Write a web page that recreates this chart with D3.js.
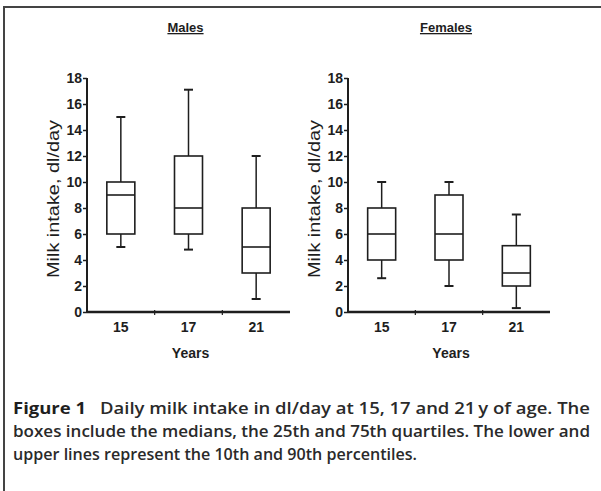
<!DOCTYPE html>
<html>
<head>
<meta charset="utf-8">
<script src="https://cdn.jsdelivr.net/npm/d3@7"></script>
<style>
  html, body { margin: 0; padding: 0; background: #fff; }
  svg { display: block; }
</style>
</head>
<body>
<svg id="fig" width="601" height="491"></svg>
<script>
// Age groups (years)
const years = ["15", "17", "21"];
const yTicks = [0, 2, 4, 6, 8, 10, 12, 14, 16, 18];

// Males: 10th, 25th, 50th, 75th, 90th percentiles (dl/day)
const malesP10 = [5, 4.8, 1];
const malesQ1  = [6, 6, 3];
const malesMed = [9, 8, 5];
const malesQ3  = [10, 12, 8];
const malesP90 = [15, 17.1, 12];

// Females
const femalesP10 = [2.6, 2, 0.3];
const femalesQ1  = [4, 4, 2];
const femalesMed = [6, 6, 3];
const femalesQ3  = [8, 9, 5.1];
const femalesP90 = [10, 10, 7.5];

const captionLines = [
  "Daily milk intake in dl/day at 15, 17 and 21\u2009y of age. The",
  "boxes include the medians, the 25th and 75th quartiles. The lower and",
  "upper lines represent the 10th and 90th percentiles."
];

const svg = d3.select("#fig");
const ink = "#1e1e1e";
const font = "'Liberation Sans', Arial, sans-serif";

// page frame
svg.append("path")
  .attr("d", "M4,491 L4,7 L601,7")
  .attr("fill", "none").attr("stroke", "#444").attr("stroke-width", 2);

function panel(title, x0, x1, p10, q1, med, q3, p90) {
  const g = svg.append("g");
  const y = d3.scaleLinear().domain([0, 18]).range([312, 78]);
  const x = d3.scaleBand().domain(years).range([x0, x1]).padding(0);

  // title
  g.append("text")
    .attr("x", (x0 + x1) / 2 - 3).attr("y", 32)
    .attr("text-anchor", "middle")
    .attr("font-family", font).attr("font-weight", "bold")
    .attr("font-size", 13).attr("fill", ink)
    .attr("text-decoration", "underline")
    .text(title);

  // y axis
  const yAxis = d3.axisLeft(y).tickValues(yTicks).tickSize(4).tickPadding(1);
  const ya = g.append("g").attr("transform", `translate(${x0},0)`).call(yAxis);
  ya.select(".domain").attr("stroke", ink).attr("stroke-width", 2)
    .attr("d", `M0,${y(18)}V${y(0)}`);
  ya.selectAll(".tick line").attr("stroke", ink).attr("stroke-width", 1.5);
  ya.selectAll(".tick text")
    .attr("font-family", font).attr("font-weight", "bold")
    .attr("font-size", 14).attr("fill", ink);

  // x axis line with marks at the category boundaries
  g.append("line")
    .attr("x1", x0).attr("x2", x1).attr("y1", y(0)).attr("y2", y(0))
    .attr("stroke", ink).attr("stroke-width", 2.5);
  g.selectAll(".xb").data(years.slice(1)).enter().append("line")
    .attr("x1", d => x(d)).attr("x2", d => x(d))
    .attr("y1", y(0) - 2).attr("y2", y(0) + 3)
    .attr("stroke", ink).attr("stroke-width", 1.2);
  g.selectAll(".xl").data(years).enter().append("text")
    .attr("x", d => x(d) + x.bandwidth() / 2)
    .attr("y", y(0) + 20)
    .attr("text-anchor", "middle")
    .attr("font-family", font).attr("font-weight", "bold")
    .attr("font-size", 14).attr("fill", ink)
    .text(d => d);

  // axis titles
  g.append("text")
    .attr("x", (x0 + x1) / 2 + 2).attr("y", 358)
    .attr("text-anchor", "middle")
    .attr("font-family", font).attr("font-weight", "bold")
    .attr("font-size", 14).attr("fill", ink)
    .text("Years");
  g.append("text")
    .attr("transform", `translate(${x0 - 28},${y(9) + 4}) rotate(-90)`)
    .attr("text-anchor", "middle")
    .attr("font-family", font)
    .attr("font-size", 16).attr("fill", ink)
    .attr("textLength", 158).attr("lengthAdjust", "spacingAndGlyphs")
    .text("Milk intake, dl/day");

  // box-and-whisker marks
  const bw = 28, cw = 9;
  years.forEach((d, i) => {
    const cx = x(d) + x.bandwidth() / 2;
    const s = g.append("g").attr("stroke", ink).attr("fill", "none");
    s.append("line").attr("x1", cx).attr("x2", cx)
      .attr("y1", y(p90[i])).attr("y2", y(q3[i])).attr("stroke-width", 1.5);
    s.append("line").attr("x1", cx).attr("x2", cx)
      .attr("y1", y(q1[i])).attr("y2", y(p10[i])).attr("stroke-width", 1.5);
    s.append("line").attr("x1", cx - cw / 2).attr("x2", cx + cw / 2)
      .attr("y1", y(p90[i])).attr("y2", y(p90[i])).attr("stroke-width", 2);
    s.append("line").attr("x1", cx - cw / 2).attr("x2", cx + cw / 2)
      .attr("y1", y(p10[i])).attr("y2", y(p10[i])).attr("stroke-width", 2);
    s.append("rect")
      .attr("x", cx - bw / 2).attr("width", bw)
      .attr("y", y(q3[i])).attr("height", y(q1[i]) - y(q3[i]))
      .attr("fill", "#fff").attr("stroke-width", 1.6);
    s.append("line").attr("x1", cx - bw / 2).attr("x2", cx + bw / 2)
      .attr("y1", y(med[i])).attr("y2", y(med[i])).attr("stroke-width", 1.6);
  });
}

panel("Males", 87, 290, malesP10, malesQ1, malesMed, malesQ3, malesP90);
panel("Females", 348, 550, femalesP10, femalesQ1, femalesMed, femalesQ3, femalesP90);

// caption
const cap = svg.append("g")
  .attr("font-family", "'Open Sans', 'Noto Sans', sans-serif")
  .attr("font-size", 16).attr("font-weight", 600).attr("fill", "#2a2a2a");
const l1 = cap.append("text").attr("x", 13).attr("y", 414)
  .attr("textLength", 577).attr("lengthAdjust", "spacingAndGlyphs");
l1.append("tspan").attr("font-weight", "bold").attr("fill", ink).text("Figure 1");
l1.append("tspan").text("\u2002 " + captionLines[0]);
cap.append("text").attr("x", 13).attr("y", 437)
  .attr("textLength", 577).attr("lengthAdjust", "spacingAndGlyphs")
  .text(captionLines[1]);
cap.append("text").attr("x", 13).attr("y", 460)
  .attr("textLength", 404).attr("lengthAdjust", "spacingAndGlyphs")
  .text(captionLines[2]);
</script>
</body>
</html>
